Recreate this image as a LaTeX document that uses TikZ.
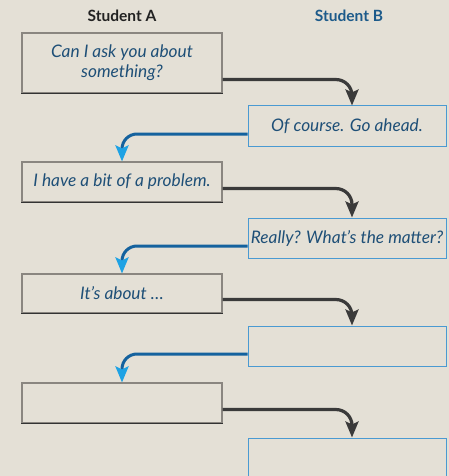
\documentclass[tikz,border=0pt]{standalone}
\usepackage{fontspec}
\setmainfont{Lato}
\usetikzlibrary{arrows.meta,calc}
\definecolor{bg}{HTML}{E4E0D6}
\definecolor{txt}{HTML}{1E4F77}
\definecolor{hdrB}{HTML}{1C5A8A}
\definecolor{hdrA}{HTML}{222222}
\definecolor{graybox}{HTML}{8A8680}
\definecolor{graydark}{HTML}{333333}
\definecolor{bluebox}{HTML}{4A9AD2}
\definecolor{blkline}{HTML}{3A3A3A}
\definecolor{bluline}{HTML}{14629E}
\definecolor{blutip}{HTML}{1EA2E4}
\begin{document}
\begin{tikzpicture}[x=1pt,y=1pt,
  abox/.style={draw=graybox,line width=1.1pt,fill=bg,minimum width=200pt,inner sep=0pt,
     font=\fontsize{17.3}{20}\selectfont\itshape,text=txt,align=center},
  bbox/.style={draw=bluebox,line width=1pt,fill=bg,minimum width=198pt,minimum height=40pt,inner sep=0pt,
     font=\fontsize{17.3}{20}\selectfont\itshape,text=txt,align=center},
  hdr/.style={font=\fontsize{15.5}{17}\selectfont\bfseries},
  blkarrow/.style={draw=blkline,line width=3.2pt,rounded corners=16pt,
     -{Stealth[length=16pt,width=13pt,inset=3pt,color=blkline]}},
  bluarrow/.style={draw=bluline,line width=3pt,rounded corners=15pt,
     -{Stealth[length=16pt,width=13pt,inset=3pt,color=blutip]}}
]
\useasboundingbox (0,0) rectangle (449,-476);
\fill[bg] (0,0) rectangle (449,-476);
\begin{scope}
\clip (0,0) rectangle (449,-476);
\node[hdr,text=hdrA] (hA) at (122,-16) {Student A};
\node[hdr,text=hdrB] (hB) at (349,-16) {Student B};

\node[abox,minimum height=60pt] (A1) at (122,-63) {Can I ask you about\\something?};
\node[bbox] (B1) at (347,-126) {Of course. Go ahead.};
\node[abox,minimum height=40pt] (A2) at (122,-182) {I have a bit of a problem.};
\node[bbox] (B2) at (347,-238) {Really? What’s the matter?};
\node[abox,minimum height=39pt] (A3) at (122,-293.5) {It’s about …};
\node[bbox] (B3) at (347,-346) {};
\node[abox,minimum height=40pt] (A4) at (122,-403) {};
\node[bbox] (B4) at (347,-458) {};

\foreach \n in {A1,A2,A3,A4}{
  \draw[graydark,line width=1.1pt] (\n.south west) -- (\n.south east);
}

\foreach \a/\b in {A1/B1,A2/B2,A3/B3,A4/B4}{
  \draw[blkarrow] ($(\a.south east)+(0,14)$) -| ($(\b.north)+(5,0)$);
}
\foreach \b/\a in {B1/A2,B2/A3,B3/A4}{
  \draw[bluarrow] ($(\b.west)+(0,-8)$) -| (\a.north);
}
\end{scope}
\end{tikzpicture}
\end{document}
